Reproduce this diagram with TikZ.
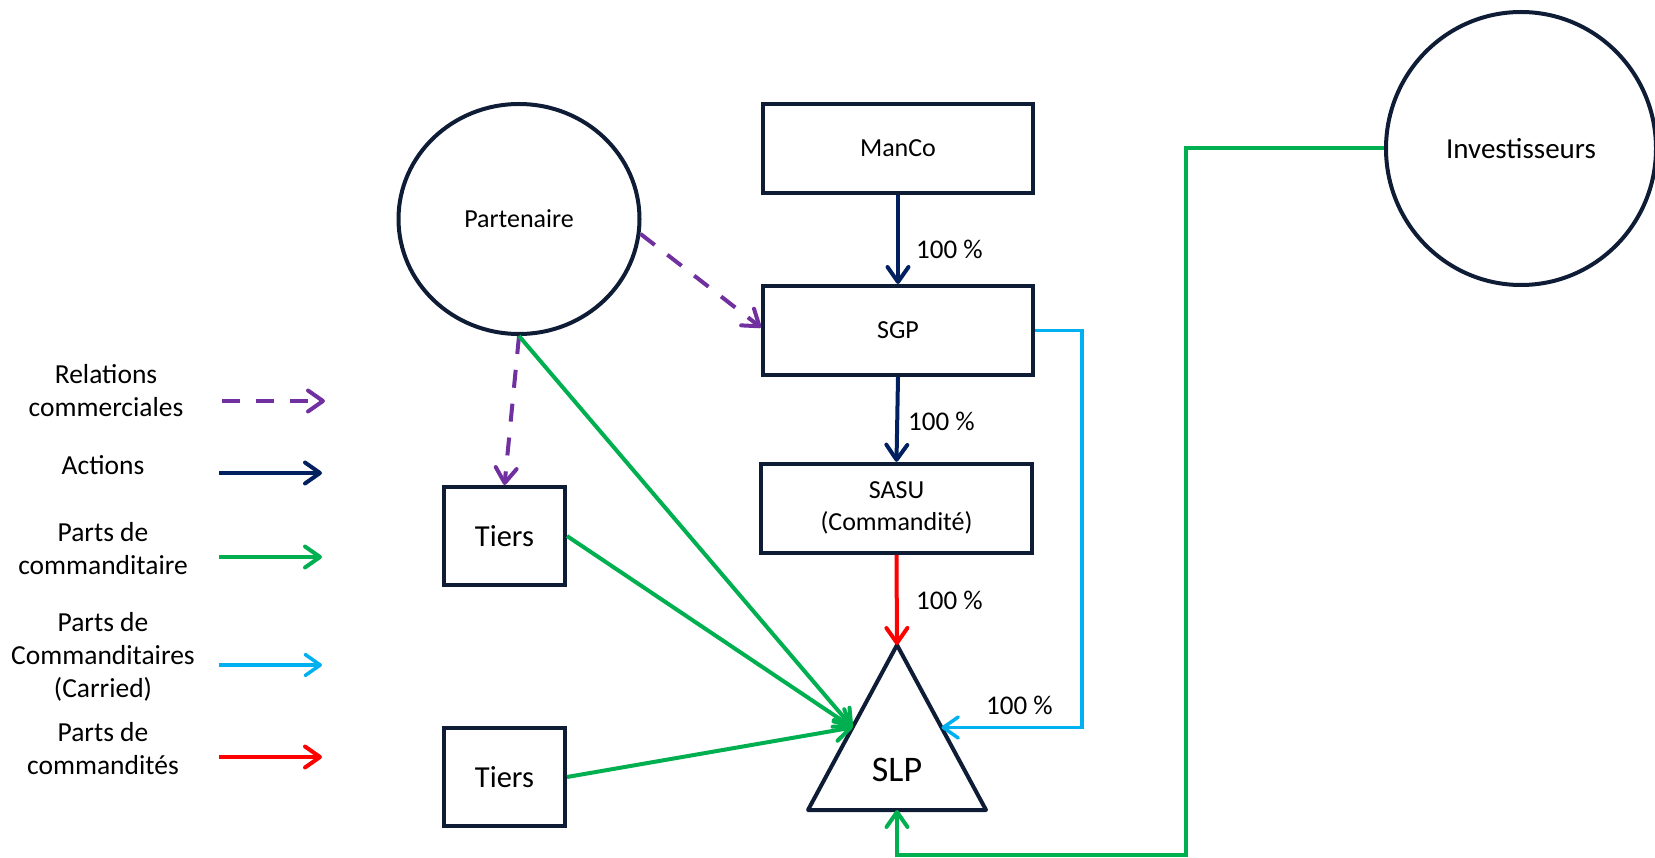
\documentclass[tikz,border=0pt]{standalone}
\usepackage{fontspec}
\setmainfont{Carlito}
\usetikzlibrary{arrows.meta,shapes.geometric,calc}
\definecolor{navy}{HTML}{0E1C36}
\definecolor{actblue}{HTML}{002060}
\definecolor{relpurple}{HTML}{7030A0}
\definecolor{lpgreen}{HTML}{00B050}
\definecolor{carblue}{HTML}{00B0F0}
\definecolor{gpred}{HTML}{FF0000}
\begin{document}
\begin{tikzpicture}[x=1pt,y=-1pt,
  box/.style={draw=navy, line width=4pt, rectangle, inner sep=0pt,
    minimum width=270pt, minimum height=89pt,
    font=\fontsize{26}{32}\selectfont, align=center},
  tiersbox/.style={draw=navy, line width=4pt, rectangle, inner sep=0pt,
    minimum width=121pt, minimum height=98pt, font=\fontsize{30.5}{36}\selectfont},
  ent/.style={draw=navy, line width=4pt, ellipse, inner sep=0pt},
  pct/.style={font=\fontsize{27}{32}\selectfont, anchor=west, inner sep=0pt},
  legtxt/.style={font=\fontsize{27.5}{33}\selectfont, align=center, inner sep=0pt},
  barb/.style={-{Straight Barb[length=15pt,width=21pt,line cap=round,line join=round]}},
  actions/.style={barb, draw=actblue, line width=4pt},
  relation/.style={barb, draw=relpurple, line width=4pt, dash pattern=on 18pt off 16pt},
  lpart/.style={barb, draw=lpgreen, line width=4pt},
  carried/.style={barb, draw=carblue, line width=3.5pt},
  gpart/.style={barb, draw=gpred, line width=4pt}
]
\useasboundingbox (0,0) rectangle (1655,858);

% entities
\node[box] (manco) at (898,148.5) {ManCo};
\node[box] (sgp) at (898,330.5) {SGP};
\node[box, minimum width=271pt] (sasu) at (896.5,508.3) {SASU\\(Commandité)};
\node[tiersbox] (tiersA) at (504.5,536) {Tiers};
\node[tiersbox] (tiersB) at (504.5,777) {Tiers};
\node[ent, minimum width=241pt, minimum height=230pt,
      font=\fontsize{26}{31}\selectfont] (part) at (519,219) {Partenaire};
\node[ent, minimum width=270pt, minimum height=273pt,
      font=\fontsize{29}{35}\selectfont] (inv) at (1521,148.5) {Investisseurs};

% the SLP triangle
\coordinate (slpT) at (897,645);
\coordinate (slpBL) at (808,810);
\coordinate (slpBR) at (986,810);
\draw[navy, line width=4pt, line join=round] (slpT) -- (slpBL) -- (slpBR) -- cycle;
\coordinate (slpL) at ($(slpT)!0.5!(slpBL)$);
\coordinate (slpR) at ($(slpT)!0.5!(slpBR)$);
\coordinate (slpB) at ($(slpBL)!0.5!(slpBR)$);
\node[font=\fontsize{36}{42}\selectfont, inner sep=0pt] (slp) at (897,770) {SLP};

% shareholdings
\draw[actions] (manco.south) -- (sgp.north);
\draw[actions] (sgp.south) -- (sasu.north);
\draw[gpart] (sasu.south) -- (slpT);
\node[pct] (p1) at (916,249) {100 \%};
\node[pct] (p2) at (908,421) {100 \%};
\node[pct] (p3) at (916,600) {100 \%};

% carried interest
\draw[carried] (sgp.east) -- ++(47,0) |- (slpR);
\node[pct] (p4) at (986,705) {100 \%};

% commercial relations
\draw[relation] (part.-7) -- ([yshift=3pt]sgp.west);
\draw[relation] (part.south) -- (tiersA.north);

% limited partners
\draw[lpart] (part.south) -- (slpL);
\draw[lpart] (tiersA.east) -- (slpL);
\draw[lpart] (tiersB.east) -- (slpL);
\coordinate (gturn) at (1186,855);
\draw[lpart] (inv.west) -| (gturn) -| (slpB);

% legend
\node[legtxt] (lrel) at (106,391) {Relations\\commerciales};
\node[legtxt] (lact) at (103,465) {Actions};
\node[legtxt] (llp) at (103,549) {Parts de\\commanditaire};
\node[legtxt] (lcar) at (103,657) {Parts de\\Commanditaires\\(Carried)};
\node[legtxt] (lgp) at (103,749) {Parts de\\commandités};
\coordinate (relA) at (222,401);  \coordinate (relB) at (325,401);
\coordinate (actA) at (219,473);  \coordinate (actB) at (322,473);
\coordinate (lpA) at (219,557);   \coordinate (lpB) at (322,557);
\coordinate (carA) at (219,665);  \coordinate (carB) at (322,665);
\coordinate (gpA) at (219,757);   \coordinate (gpB) at (322,757);
\draw[relation] (relA) -- (relB);
\draw[actions] (actA) -- (actB);
\draw[lpart] (lpA) -- (lpB);
\draw[carried] (carA) -- (carB);
\draw[gpart] (gpA) -- (gpB);
\end{tikzpicture}
\end{document}
